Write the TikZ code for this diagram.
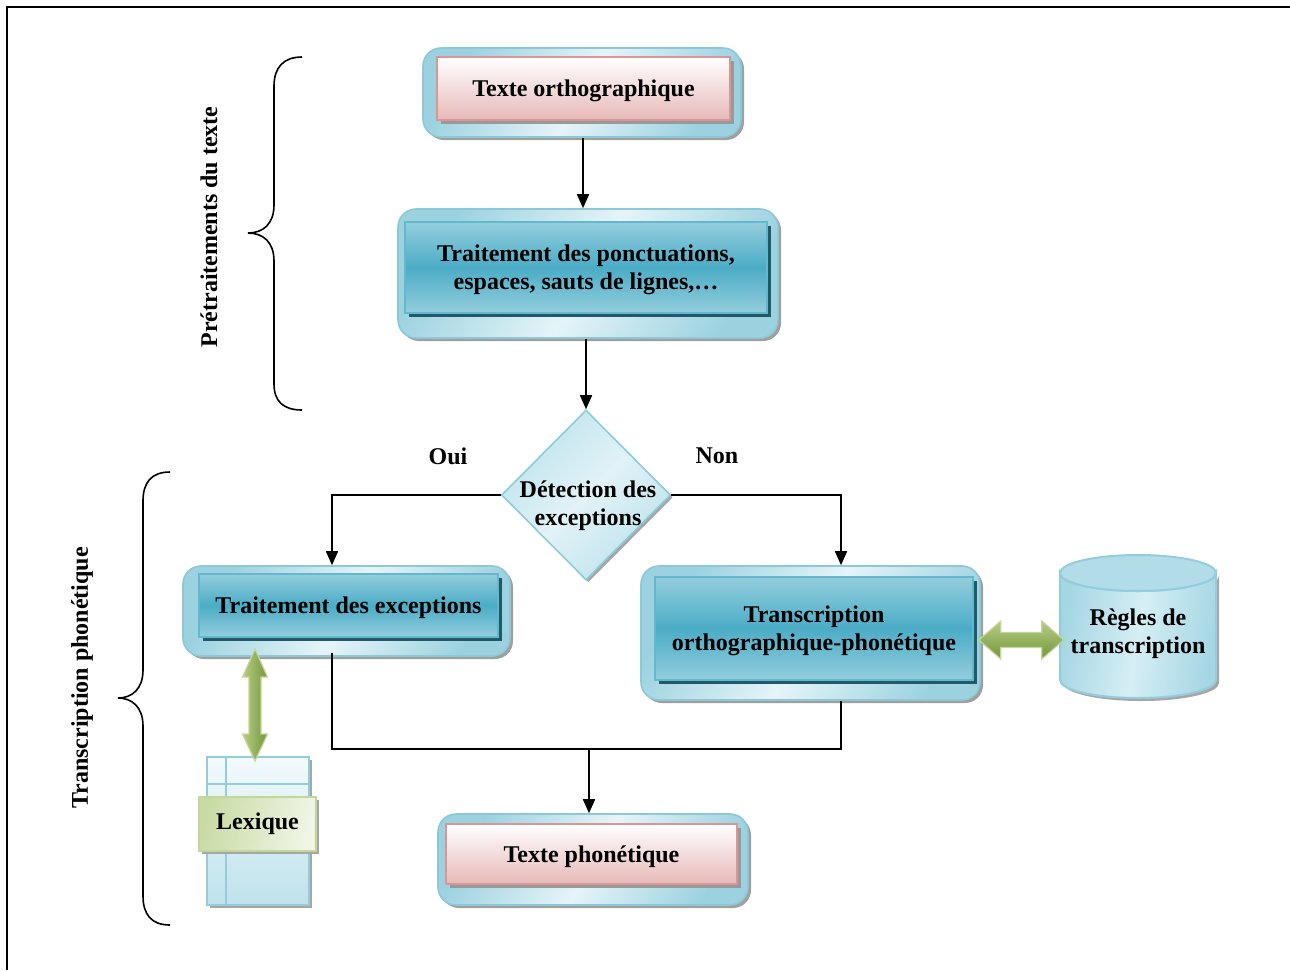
\documentclass[tikz,border=0pt]{standalone}
\usepackage{fontspec}
\setmainfont{Liberation Serif}
\usetikzlibrary{shapes.geometric,shadows,arrows.meta,calc}

\definecolor{outerA}{HTML}{9CD2E0}
\definecolor{outerB}{HTML}{E6F4F8}
\definecolor{outerEdge}{HTML}{8CC8D8}
\definecolor{blueTop}{HTML}{94CEDD}
\definecolor{blueMid}{HTML}{4BACC6}
\definecolor{blueEdge}{HTML}{62B8CE}
\definecolor{blueDark}{HTML}{215968}
\definecolor{pinkEdge}{HTML}{D99694}
\definecolor{pinkBot}{HTML}{E6B9B8}
\definecolor{diaA}{HTML}{BFE3EC}
\definecolor{diaB}{HTML}{E2F2F7}
\definecolor{diaEdge}{HTML}{8CCBDA}
\definecolor{cylA}{HTML}{A5D6E3}
\definecolor{cylB}{HTML}{D6EEF4}
\definecolor{cylEdge}{HTML}{93CDDD}
\definecolor{greenA}{HTML}{B4CD85}
\definecolor{greenB}{HTML}{76963A}
\definecolor{greenEdge}{HTML}{C3D69B}
\definecolor{lexA}{HTML}{C9DBA5}
\definecolor{lexB}{HTML}{F0F5E6}
\definecolor{tabTop}{HTML}{F3FAFC}
\definecolor{tabBot}{HTML}{BFE2EC}

\begin{document}
\begin{tikzpicture}[x=0.5pt,y=-0.5pt,
  font=\fontsize{12}{14}\selectfont\bfseries,
  outerbox/.style={draw=outerEdge, line width=0.8pt, rounded corners=9pt,
    left color=outerA, right color=outerA, middle color=outerB, shading angle=60,
    drop shadow={shadow xshift=1.5pt, shadow yshift=-1.5pt, fill=gray!75, opacity=1},
    inner sep=0pt},
  bluebox/.style={draw=blueEdge, line width=1pt,
    top color=blueTop, bottom color=blueTop, middle color=blueMid,
    drop shadow={shadow xshift=2pt, shadow yshift=-2pt, fill=blueDark, opacity=1},
    align=center, inner sep=0pt, text depth=0pt},
  pinkbox/.style={draw=pinkEdge, line width=1.3pt,
    top color=white, bottom color=pinkBot,
    drop shadow={shadow xshift=2pt, shadow yshift=-2pt, fill=gray!80, opacity=1},
    align=center, inner sep=0pt, text depth=0pt},
  decision/.style={diamond, draw=diaEdge, line width=0.8pt,
    left color=diaA, right color=diaA, middle color=diaB, shading angle=45,
    drop shadow={shadow xshift=1.2pt, shadow yshift=-1.2pt, fill=gray!70, opacity=1},
    inner sep=0pt},
  greenarrow/.style={draw=greenEdge, line width=0.6pt,
    top color=greenA, bottom color=greenB},
  arr/.style={line width=0.8pt, -{Triangle[length=7pt,width=6pt]}},
  link/.style={line width=0.8pt},
  brace/.style={line width=0.8pt},
  side/.style={rotate=90, anchor=center}
]
\useasboundingbox (0,0) rectangle (1290,970);

% frame
\draw[line width=1pt] (7,970) -- (7,7) -- (1290,7);

% ---------- text pre-processing ----------
\node[outerbox, minimum width=159pt, minimum height=44.5pt] (toOut) at (582,92.5) {};
\node[pinkbox, minimum width=146.5pt, minimum height=31.5pt] (toIn) at (583.5,88.5) {Texte orthographique};

\node[outerbox, minimum width=190pt, minimum height=64.5pt] (ponOut) at (588,273.5) {};
\node[bluebox, minimum width=181pt, minimum height=45.5pt] (ponIn) at (586,267.5)
  {Traitement des ponctuations,\\espaces, sauts de lignes,\dots};

% ---------- decision ----------
\node[decision, minimum width=84.5pt, minimum height=85pt,
  label={[align=center, yshift=-5.5pt, xshift=1pt]center:D\'etection des\\exceptions}] (det) at (586,495) {};
\node (oui) at (448,456) {Oui};
\node (non) at (717,456) {Non};

% ---------- exceptions branch ----------
\node[outerbox, minimum width=163.5pt, minimum height=45pt] (excOut) at (346.5,611) {};
\node[bluebox, minimum width=149.5pt, minimum height=31.5pt] (excIn) at (348.5,605.5) {Traitement des exceptions};

% lexicon table
\node[draw=cylEdge, line width=1pt, top color=tabTop, bottom color=tabBot,
  minimum width=51pt, minimum height=74pt, inner sep=0pt,
  drop shadow={shadow xshift=1.5pt, shadow yshift=-1.5pt, fill=gray!70, opacity=1}] (lexTab) at (258,831) {};
\draw[draw=cylEdge, line width=1pt] ($(lexTab.north west)+(20,0)$) -- ($(lexTab.south west)+(20,0)$);
\draw[draw=cylEdge, line width=1pt] ($(lexTab.north west)+(0,28)$) -- ($(lexTab.north east)+(0,28)$);
\node[draw=greenEdge, line width=1pt, left color=lexA, right color=lexB, shading angle=75,
  minimum width=58.5pt, minimum height=27pt, inner sep=0pt,
  drop shadow={shadow xshift=1.5pt, shadow yshift=-1.5pt, fill=gray!70, opacity=1}] (lexLab) at (257.5,824) {Lexique};

% ---------- rules branch ----------
\node[outerbox, minimum width=169.5pt, minimum height=67pt] (trOut) at (810.5,633) {};
\node[bluebox, minimum width=159pt, minimum height=51.5pt] (trIn) at (814,628.5)
  {Transcription\\orthographique-phon\'etique};

% rules database (cylinder)
\node[minimum width=78pt, minimum height=71.5pt, inner sep=0pt] (regles) at (1138,626.5) {};
\path[draw=cylEdge, line width=1pt, left color=cylA, right color=cylA, middle color=cylB, shading angle=80,
  drop shadow={shadow xshift=1.5pt, shadow yshift=-1.5pt, fill=gray!70, opacity=1}]
  (1060,573) -- (1060,680) arc[start angle=180, end angle=0, x radius=78, y radius=18]
  -- (1216,573) arc[start angle=0, end angle=180, x radius=78, y radius=18] -- cycle;
\path[draw=cylEdge, line width=1pt, fill=cylA!85] (1138,573) ellipse[x radius=78, y radius=18];
\node[align=center] (reglesTxt) at (1138,634) {R\`egles de\\transcription};

% ---------- output ----------
\node[outerbox, minimum width=155pt, minimum height=45.5pt] (phOut) at (593,859.5) {};
\node[pinkbox, minimum width=145.5pt, minimum height=30pt] (phIn) at (591.5,854) {Texte phon\'etique};

% ---------- connectors ----------
\draw[arr] (toOut.south -| 583,0) -- (ponOut.north -| 583,0);
\draw[arr] (ponOut.south -| det.north) -- (det.north);
\draw[arr] (det.west) -| ([xshift=-7.25pt]excOut.north);
\draw[arr] (det.east) -| ([xshift=15.25pt]trOut.north);
\coordinate (join) at (589,749);
\draw[link] ([xshift=-7.25pt, yshift=2pt]excOut.south) |- (join)
  -| ([xshift=15.25pt]trOut.south);
\draw[arr] (join) -- (join |- phOut.north);

% double arrows between boxes and data stores
\begin{scope}[shift={(trOut.east)}]
  \path[greenarrow] (-2,7) -- (20,-12) -- (20,-0.5) -- (61,-0.5) -- (61,-12) -- (83,7)
    -- (61,26) -- (61,14.5) -- (20,14.5) -- (20,26) -- cycle;
\end{scope}
\begin{scope}[shift={(lexTab.north)}]
  \path[greenarrow, left color=greenA, right color=greenB] (-3,-107) -- (9.5,-79) -- (3,-79) -- (3,-22) -- (9.5,-22)
    -- (-3,5) -- (-15.5,-22) -- (-9,-22) -- (-9,-79) -- (-15.5,-79) -- cycle;
\end{scope}

% ---------- braces and side titles ----------
\draw[brace] (302,57) .. controls (283,57) and (274,68) .. (274,86) -- (274,205)
  .. controls (274,224) and (263,233) .. (248,233)
  .. controls (263,233) and (274,242) .. (274,261) -- (274,384)
  .. controls (274,401) and (283,410) .. (302,410);
\node[side] (pre) at (209,227) {Pr\'etraitements du texte};

\draw[brace] (170,472) .. controls (151,472) and (143,483) .. (143,501) -- (143,670)
  .. controls (143,689) and (132,698) .. (118,698)
  .. controls (132,698) and (143,707) .. (143,726) -- (143,896)
  .. controls (143,914) and (151,925) .. (170,925);
\node[side] (trans) at (82,678) {Transcription phon\'etique};
\end{tikzpicture}
\end{document}
